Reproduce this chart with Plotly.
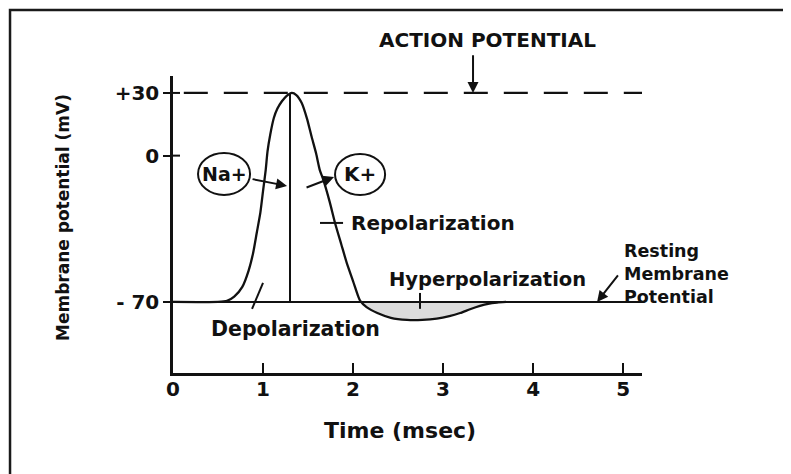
import plotly.graph_objects as go

# ---------------- data ----------------
t_ms = [0.0, 0.5, 0.6, 0.68, 0.77, 0.84, 0.89, 0.93, 0.97, 1.00, 1.03, 1.05, 1.08,
        1.12, 1.16, 1.21, 1.26, 1.32, 1.37, 1.43, 1.49, 1.54, 1.59, 1.63, 1.67,
        1.74, 1.80, 1.87, 1.93, 2.00, 2.06, 2.08, 2.15, 2.27, 2.42, 2.60, 2.77,
        2.93, 3.07, 3.19, 3.30, 3.41, 3.50, 3.60, 3.70]
v_mv = [-70, -70, -69.5, -67.5, -62.8, -55, -46.6, -37, -27.4, -17, -6.8, 2, 10,
        18, 22.5, 26, 28.5, 30, 29, 25.2, 17.5, 9, 1, -6.8, -11.6,
        -22, -32.2, -42.5, -51.3, -60, -67.6, -69.5, -72.5, -75.3, -77.6, -78.6, -78.6,
        -78, -76.8, -75.3, -73.5, -71.9, -70.9, -70.3, -70]
rest_mv = -70
peak_mv = 30
peak_t = 1.30
hyper_start = 2.08
x_ticks = [0, 1, 2, 3, 4, 5]
x_ticklabels = ["0", "1", "2", "3", "4", "5"]
y_ticks = [30, 0, -70]
y_ticklabels = ["+30", "0", "- 70"]
x_range = [0, 5.21]
y_range = [-104, 38.1]

FONT = "DejaVu Sans"
INK = "#111111"

def bold(size):
    return dict(family=FONT, size=size, color=INK, weight="bold")

fig = go.Figure()

# hyperpolarization shading
hx = [t for t in t_ms if t >= hyper_start]
hy = [v for t, v in zip(t_ms, v_mv) if t >= hyper_start]
fig.add_trace(go.Scatter(x=hx, y=[rest_mv] * len(hx), mode="lines",
                         line=dict(width=0), hoverinfo="skip", showlegend=False))
fig.add_trace(go.Scatter(x=hx, y=hy, mode="lines", fill="tonexty",
                         fillcolor="#dcdcdc", line=dict(width=0),
                         hoverinfo="skip", showlegend=False))

# resting baseline
fig.add_trace(go.Scatter(x=x_range, y=[rest_mv, rest_mv], mode="lines",
                         line=dict(color=INK, width=2), showlegend=False))
# +30 dashed level
fig.add_trace(go.Scatter(x=[0.12, x_range[1]], y=[peak_mv, peak_mv], mode="lines",
                         line=dict(color=INK, width=2.2, dash="24px,16px"),
                         showlegend=False))
# vertical line at peak
fig.add_trace(go.Scatter(x=[peak_t, peak_t], y=[rest_mv, peak_mv], mode="lines",
                         line=dict(color=INK, width=2), showlegend=False))
# action potential curve
fig.add_trace(go.Scatter(x=t_ms, y=v_mv, mode="lines",
                         line=dict(color=INK, width=2.3, shape="spline", smoothing=0.6),
                         showlegend=False))

shapes = []
line_style = dict(color=INK, width=2)
# inner half of the crossing y ticks
for v in y_ticks:
    shapes.append(dict(type="line", xref="x", yref="y", xsizemode="pixel", xanchor=0,
                       x0=0, x1=7, y0=v, y1=v, line=line_style))
# ion circles
shapes.append(dict(type="circle", xref="x", yref="y", x0=0.278, x1=0.856,
                   y0=-18.8, y1=1.3, line=line_style))
shapes.append(dict(type="circle", xref="x", yref="y", x0=1.80, x1=2.356,
                   y0=-18.8, y1=0.8, line=line_style))
# pointer lines
shapes.append(dict(type="line", xref="x", yref="y", x0=1.633, x1=1.889,
                   y0=-32.2, y1=-32.2, line=line_style))
shapes.append(dict(type="line", xref="x", yref="y", x0=2.744, x1=2.744,
                   y0=-65.7, y1=-73.3, line=line_style))
shapes.append(dict(type="line", xref="x", yref="y", x0=0.878, x1=1.0,
                   y0=-73.3, y1=-60.9, line=line_style))
# frame
shapes.append(dict(type="rect", xref="paper", yref="paper", x0=-0.3475, x1=1.312,
                   y0=-0.40, y1=1.222, line=dict(color="#1a1a1a", width=2.5)))

ann = []
def txt(x, y, s, size=20, xanchor="left"):
    ann.append(dict(x=x, y=y, xref="x", yref="y", text=s, showarrow=False,
                    xanchor=xanchor, yanchor="middle", align="left", font=bold(size)))

def arrow(x, y, ax, ay):
    ann.append(dict(x=x, y=y, ax=ax, ay=ay, xref="x", yref="y", axref="x", ayref="y",
                    text="", showarrow=True, arrowhead=2, arrowsize=1.1,
                    arrowwidth=2, arrowcolor=INK))

ann.append(dict(x=3.489, y=1.121, xref="x", yref="paper", text="ACTION POTENTIAL",
                showarrow=False, xanchor="center", yanchor="middle", font=bold(20)))
arrow(3.333, 30, 3.333, 48.7)
txt(0.567, -8.8, "Na+", 19, "center")
txt(2.078, -8.8, "K+", 20, "center")
arrow(1.267, -14.5, 0.867, -11.1)
arrow(1.789, -10.2, 1.467, -15.5)
txt(1.956, -32.2, "Repolarization", 20)
txt(2.378, -59.5, "Hyperpolarization", 19.5)
txt(0.40, -82.9, "Depolarization", 20.5)
txt(4.989, -56.6, "Resting<br>Membrane<br>Potential", 17.5)
arrow(4.711, -70, 4.956, -56.6)

# axis titles
ann.append(dict(x=-0.2345, y=0.522, xref="paper", yref="paper",
                text="Membrane potential (mV)", textangle=-90, showarrow=False,
                xanchor="center", yanchor="middle", font=bold(17)))
ann.append(dict(x=0.484, y=-0.192, xref="paper", yref="paper",
                text="Time (msec)", showarrow=False,
                xanchor="center", yanchor="middle", font=bold(22)))

fig.update_layout(
    width=791, height=474,
    margin=dict(l=165, r=157, t=68, b=109, pad=0),
    paper_bgcolor="white", plot_bgcolor="white",
    showlegend=False,
    shapes=shapes, annotations=ann,
    xaxis=dict(range=x_range, tickvals=x_ticks, ticktext=x_ticklabels,
               ticks="inside", ticklen=10, tickwidth=2, tickcolor=INK,
               ticklabelstandoff=-4,
               showline=True, linecolor=INK, linewidth=2.5,
               showgrid=False, zeroline=False, tickfont=bold(20)),
    yaxis=dict(range=y_range, tickvals=y_ticks, ticktext=y_ticklabels,
               ticks="outside", ticklen=7, tickwidth=2, tickcolor=INK,
               showline=True, linecolor=INK, linewidth=2.5,
               showgrid=False, zeroline=False, tickfont=bold(20)),
)

fig.write_html("out.html")
